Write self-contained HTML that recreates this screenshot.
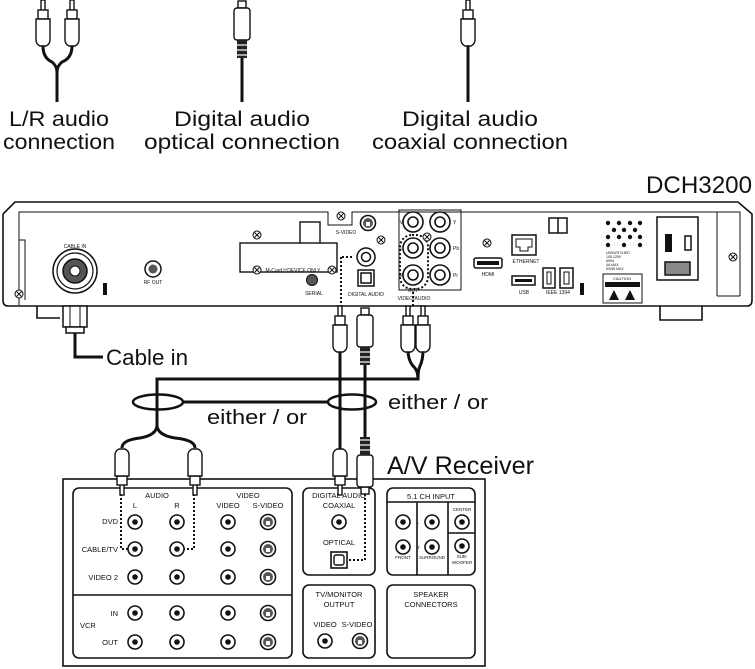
<!DOCTYPE html>
<html><head><meta charset="utf-8"><style>
html,body{margin:0;padding:0;background:#fff;}
svg{display:block;}
text{font-family:"Liberation Sans",sans-serif;fill:#111;}
.s{font-size:5px;}
.r{font-size:7.5px;}
</style></head><body>
<svg width="755" height="669" viewBox="0 0 755 669" xmlns="http://www.w3.org/2000/svg">
<defs>
<g id="rca">
<rect x="-2" y="0" width="4" height="11" fill="#fff" stroke="#111" stroke-width="1.4"/>
<rect x="-5" y="10" width="10" height="9" fill="#fff" stroke="#111" stroke-width="1.4"/>
<path d="M-7,19 H7 V40 Q7,44 3,46 H-3 Q-7,44 -7,40 Z" fill="#fff" stroke="#111" stroke-width="1.4"/>
</g>
<g id="opt">
<rect x="-4" y="0" width="8" height="7" fill="#fff" stroke="#111" stroke-width="1.4"/>
<rect x="-8" y="7" width="16" height="32" rx="3" fill="#fff" stroke="#111" stroke-width="1.4"/>
<rect x="-5" y="39" width="10" height="18" fill="#222"/>
<line x1="-5" y1="44" x2="5" y2="44" stroke="#fff" stroke-width="1.2"/>
<line x1="-5" y1="49" x2="5" y2="49" stroke="#fff" stroke-width="1.2"/>
<line x1="-5" y1="54" x2="5" y2="54" stroke="#fff" stroke-width="1.2"/>
</g>
<g id="jack"><circle r="7" fill="#fff" stroke="#111" stroke-width="1.6"/><circle r="2.8" fill="#111"/></g>
<g id="sv"><circle r="7.5" fill="#fff" stroke="#111" stroke-width="1.6"/><circle r="5" fill="#555"/><rect x="-2" y="-1" width="4" height="4" fill="#fff"/></g>
<g id="scr"><circle r="4" fill="#fff" stroke="#111" stroke-width="1"/><path d="M-2.5,-2.5 L2.5,2.5 M2.5,-2.5 L-2.5,2.5" stroke="#111" stroke-width="1"/></g>
</defs>

<g stroke="#111" fill="none" stroke-width="3">
<path d="M43,46 Q43,58 52,62 Q57,66 57,72 Q57,66 62,62 Q72,58 72,46"/>
<line x1="57" y1="70" x2="57" y2="102"/>
<line x1="242" y1="55" x2="242" y2="102"/>
<line x1="468" y1="45" x2="468" y2="102"/>
</g>
<use href="#rca" x="43" y="0"/><use href="#rca" x="72" y="0"/>
<use href="#opt" x="242" y="1"/>
<use href="#rca" x="468" y="0"/>

<text x="59" y="126" font-size="21" text-anchor="middle" textLength="100" lengthAdjust="spacingAndGlyphs">L/R audio</text>
<text x="59" y="149" font-size="21" text-anchor="middle" textLength="112" lengthAdjust="spacingAndGlyphs">connection</text>
<text x="242" y="126" font-size="21" text-anchor="middle" textLength="136" lengthAdjust="spacingAndGlyphs">Digital audio</text>
<text x="242" y="149" font-size="21" text-anchor="middle" textLength="196" lengthAdjust="spacingAndGlyphs">optical connection</text>
<text x="470" y="126" font-size="21" text-anchor="middle" textLength="136" lengthAdjust="spacingAndGlyphs">Digital audio</text>
<text x="470" y="149" font-size="21" text-anchor="middle" textLength="196" lengthAdjust="spacingAndGlyphs">coaxial connection</text>
<text x="752" y="193" font-size="24" text-anchor="end" textLength="106" lengthAdjust="spacingAndGlyphs">DCH3200</text>

<g stroke="#111" fill="none" stroke-width="1.6">
<path d="M3,214 L15,202 H738 L752,214 V300 M3,214 V300"/>
<path d="M3,300 Q3,306 8,306 H747 Q752,306 752,300" />
<path d="M19,305 V212 H328 V225 H352 V212 H548" stroke-width="1"/>
<path d="M548,212 H740 V296 M717,212 V296" stroke-width="1"/>
<path d="M19,240 H25 V300 M740,296 H717" stroke-width="1"/>
<path d="M37,306 V318 H60 M660,306 V320 H702 V306" />
<rect x="399" y="210" width="62" height="80" stroke-width="1"/>
</g>

<text x="75" y="248" class="s" text-anchor="middle">CABLE IN</text>
<circle cx="75" cy="271" r="22" fill="#fff" stroke="#111" stroke-width="1.5"/>
<circle cx="75" cy="271" r="18" fill="none" stroke="#111" stroke-width="1.2"/>
<circle cx="75" cy="271" r="12" fill="#555" stroke="#111" stroke-width="1.5"/>
<circle cx="75" cy="271" r="5" fill="#fff" stroke="#111"/>
<rect x="103" y="283" width="4" height="12" fill="#111"/>
<use href="#scr" x="19" y="294"/>
<circle cx="153" cy="269" r="8" fill="#fff" stroke="#111" stroke-width="1.5"/>
<circle cx="153" cy="269" r="4.5" fill="#555"/>
<text x="153" y="284" class="s" text-anchor="middle">RF OUT</text>

<rect x="300" y="222" width="20" height="22" fill="#fff" stroke="#111" stroke-width="1.4"/>
<rect x="240" y="243" width="97" height="29" fill="#fff" stroke="#111" stroke-width="1.4"/>
<use href="#scr" x="257" y="235"/><use href="#scr" x="257" y="270"/><use href="#scr" x="332" y="270"/>
<text x="293" y="272" class="s" text-anchor="middle">M-Card™DEVICE ONLY</text>
<use href="#scr" x="341" y="216"/>
<use href="#sv" x="368" y="223"/>
<text x="346" y="234" class="s" text-anchor="middle">S-VIDEO</text>
<use href="#scr" x="381" y="240"/>
<circle cx="366" cy="257" r="9" fill="#fff" stroke="#111" stroke-width="1.5"/>
<circle cx="366" cy="257" r="4.5" fill="none" stroke="#111" stroke-width="1.5"/>
<rect x="358" y="270" width="16" height="16" fill="#fff" stroke="#111" stroke-width="1.5"/>
<rect x="361" y="273" width="10" height="10" fill="#fff" stroke="#111" stroke-width="1.5"/>
<text x="366" y="296" class="s" text-anchor="middle">DIGITAL AUDIO</text>
<circle cx="312" cy="280" r="5.5" fill="#555" stroke="#111"/>
<text x="314" y="295" class="s" text-anchor="middle">SERIAL</text>

<g fill="#fff" stroke="#111" stroke-width="1.6">
<circle cx="413" cy="222" r="10"/><circle cx="440" cy="222" r="10"/>
<circle cx="413" cy="248" r="10"/><circle cx="440" cy="248" r="10"/>
<circle cx="413" cy="275" r="10"/><circle cx="440" cy="275" r="10"/>
<circle cx="413" cy="222" r="5"/><circle cx="440" cy="222" r="5"/>
<circle cx="413" cy="248" r="5"/><circle cx="440" cy="248" r="5"/>
<circle cx="413" cy="275" r="5"/><circle cx="440" cy="275" r="5"/>
</g>
<rect x="400" y="235" width="28" height="54" rx="12" fill="none" stroke="#111" stroke-width="2" stroke-dasharray="2,2"/>
<text x="403" y="224" class="s" text-anchor="end">V</text>
<text x="403" y="250" class="s" text-anchor="end">L</text>
<text x="403" y="277" class="s" text-anchor="end">R</text>
<text x="453" y="224" class="s">Y</text><text x="453" y="250" class="s">Pb</text><text x="453" y="277" class="s">Pr</text>
<text x="413" y="292" class="s" text-anchor="middle">OUT</text>
<text x="414" y="300" class="s" text-anchor="middle">VIDEO/AUDIO</text>
<use href="#scr" x="427" y="237"/>

<use href="#scr" x="487" y="243"/>
<rect x="474" y="258" width="28" height="10" rx="2" fill="#fff" stroke="#111" stroke-width="1.5"/>
<rect x="477" y="261" width="22" height="4" fill="#111"/>
<text x="488" y="276" class="s" text-anchor="middle">HDMI</text>
<rect x="512" y="235" width="24" height="20" fill="#fff" stroke="#111" stroke-width="1.5"/>
<path d="M516,239 H532 V247 H528 V251 H520 V247 H516 Z" fill="none" stroke="#111"/>
<text x="526" y="263" class="s" text-anchor="middle">ETHERNET</text>
<rect x="512" y="276" width="23" height="9" fill="#fff" stroke="#111" stroke-width="1.5"/>
<rect x="515" y="279" width="17" height="3" fill="#111"/>
<text x="524" y="294" class="s" text-anchor="middle">USB</text>
<rect x="543" y="268" width="12" height="20" fill="#fff" stroke="#111" stroke-width="1.5"/>
<rect x="560" y="268" width="13" height="20" fill="#fff" stroke="#111" stroke-width="1.5"/>
<rect x="547" y="272" width="4" height="12" fill="none" stroke="#111"/><rect x="564" y="272" width="5" height="12" fill="none" stroke="#111"/>
<text x="558" y="294" class="s" text-anchor="middle">IEEE 1394</text>
<rect x="580" y="283" width="4" height="12" fill="#111"/>
<rect x="549" y="218" width="18" height="15" fill="#fff" stroke="#111" stroke-width="1.5"/>
<line x1="558" y1="218" x2="558" y2="233" stroke="#111" stroke-width="1.5"/>

<g fill="#111">
<circle cx="608" cy="223" r="2.2"/><circle cx="619" cy="223" r="2.2"/><circle cx="630" cy="223" r="2.2"/><circle cx="640" cy="223" r="2.2"/>
<circle cx="614" cy="230" r="2.2"/><circle cx="624" cy="230" r="2.2"/><circle cx="635" cy="230" r="2.2"/>
<circle cx="608" cy="237" r="2.2"/><circle cx="619" cy="237" r="2.2"/><circle cx="630" cy="237" r="2.2"/><circle cx="640" cy="237" r="2.2"/>
<circle cx="608" cy="245" r="2.2"/><circle cx="624" cy="245" r="2.2"/><circle cx="640" cy="245" r="2.2"/>
</g>
<text x="606" y="254" font-size="3.5">UNSWITCHED</text>
<text x="606" y="258" font-size="3.5">105-125V</text>
<text x="606" y="262" font-size="3.5">60Hz</text>
<text x="606" y="266" font-size="3.5">4A MAX</text>
<text x="606" y="270" font-size="3.5">500W MAX</text>
<rect x="603" y="274" width="39" height="29" fill="#fff" stroke="#111"/>
<text x="622" y="280" font-size="4" text-anchor="middle">CAUTION</text>
<rect x="605" y="282" width="35" height="5" fill="#111"/>
<path d="M609,300 L614,290 L619,300 Z M625,300 L630,290 L635,300 Z" fill="#111"/>
<rect x="657" y="217" width="41" height="63" fill="#fff" stroke="#111" stroke-width="1.5"/>
<rect x="665" y="234" width="7" height="18" fill="#111"/>
<rect x="685" y="236" width="6" height="14" fill="#fff" stroke="#111" stroke-width="1.5"/>
<rect x="665" y="262" width="25" height="13" fill="#888" stroke="#111" stroke-width="1.5"/>
<use href="#scr" x="733" y="257"/>

<rect x="63" y="306" width="24" height="21" fill="#fff" stroke="#111" stroke-width="1.5"/>
<line x1="70" y1="306" x2="70" y2="327" stroke="#111"/><line x1="80" y1="306" x2="80" y2="327" stroke="#111"/>
<rect x="66" y="327" width="18" height="6" fill="#fff" stroke="#111" stroke-width="1.5"/>
<path d="M75,333 V357 H103" fill="none" stroke="#111" stroke-width="3"/>
<text x="106" y="365" font-size="22" textLength="82" lengthAdjust="spacingAndGlyphs">Cable in</text>

<path d="M341,257 V318" stroke="#111" stroke-width="2" stroke-dasharray="2,2" fill="none"/>
<path d="M352,257 H341" stroke="#111" stroke-width="2" stroke-dasharray="2,2"/>
<path d="M413,292 V308" stroke="#111" stroke-width="2" stroke-dasharray="2,2"/>
<g stroke="#111" fill="none" stroke-width="3">
<line x1="340" y1="350" x2="340" y2="450"/>
<line x1="365" y1="365" x2="365" y2="440"/>
<path d="M408,350 Q408,360 413,366 Q418,370 418,379 Q418,370 420,366 Q423,360 423,350"/>
<path d="M418,378 V379 H157 V427"/>
<path d="M157,425 Q157,435 140,438 Q122,440 122,448 M157,425 Q157,435 175,438 Q195,440 195,448"/>
<line x1="183" y1="402" x2="328" y2="402"/>
</g>
<use href="#rca" x="340" y="306"/>
<use href="#opt" x="365" y="308"/>
<use href="#rca" x="408" y="306"/><use href="#rca" x="423" y="306"/>
<ellipse cx="158" cy="402" rx="25" ry="7.5" fill="none" stroke="#111" stroke-width="2.5"/>
<ellipse cx="352" cy="402" rx="24" ry="7.5" fill="none" stroke="#111" stroke-width="2.5"/>
<text x="207" y="424" font-size="20" textLength="100" lengthAdjust="spacingAndGlyphs">either / or</text>
<text x="388" y="409" font-size="20" textLength="100" lengthAdjust="spacingAndGlyphs">either / or</text>
<text x="387" y="474" font-size="25" textLength="147" lengthAdjust="spacingAndGlyphs">A/V Receiver</text>

<rect x="63" y="479" width="422" height="187" fill="#fff" stroke="#111" stroke-width="1.6"/>
<g fill="none" stroke="#111" stroke-width="1.6">
<rect x="73" y="488" width="219" height="170" rx="6"/>
<line x1="73" y1="595" x2="292" y2="595"/>
<rect x="303" y="488" width="72" height="87" rx="6"/>
<rect x="387" y="488" width="88" height="87" rx="6"/>
<line x1="387" y1="502" x2="475" y2="502"/><line x1="417" y1="502" x2="417" y2="575"/><line x1="448" y1="502" x2="448" y2="575"/><line x1="448" y1="533" x2="475" y2="533"/>
<rect x="303" y="585" width="72" height="73" rx="6"/>
<rect x="387" y="585" width="88" height="73" rx="6"/>
</g>
<text class="r" x="157" y="498" text-anchor="middle">AUDIO</text>
<text class="r" x="248" y="498" text-anchor="middle">VIDEO</text>
<text class="r" x="135" y="508" text-anchor="middle">L</text>
<text class="r" x="177" y="508" text-anchor="middle">R</text>
<text class="r" x="228" y="508" text-anchor="middle">VIDEO</text>
<text class="r" x="268" y="508" text-anchor="middle">S-VIDEO</text>
<text class="r" x="118" y="524" text-anchor="end">DVD</text>
<text class="r" x="118" y="552" text-anchor="end">CABLE/TV</text>
<text class="r" x="118" y="580" text-anchor="end">VIDEO 2</text>
<text class="r" x="118" y="616" text-anchor="end">IN</text>
<text class="r" x="80" y="628">VCR</text>
<text class="r" x="118" y="645" text-anchor="end">OUT</text>
<use href="#jack" x="135" y="522"/><use href="#jack" x="177" y="522"/><use href="#jack" x="228" y="522"/><use href="#sv" x="268" y="522"/>
<use href="#jack" x="135" y="549"/><use href="#jack" x="177" y="549"/><use href="#jack" x="228" y="549"/><use href="#sv" x="268" y="549"/>
<use href="#jack" x="135" y="577"/><use href="#jack" x="177" y="577"/><use href="#jack" x="228" y="577"/><use href="#sv" x="268" y="577"/>
<use href="#jack" x="135" y="613"/><use href="#jack" x="177" y="613"/><use href="#jack" x="228" y="613"/><use href="#sv" x="268" y="613"/>
<use href="#jack" x="135" y="642"/><use href="#jack" x="177" y="642"/><use href="#jack" x="228" y="642"/><use href="#sv" x="268" y="642"/>
<text class="r" x="339" y="498" text-anchor="middle">DIGITAL AUDIO</text>
<text class="r" x="339" y="508" text-anchor="middle">COAXIAL</text>
<use href="#jack" x="339" y="522"/>
<text class="r" x="339" y="545" text-anchor="middle">OPTICAL</text>
<rect x="331" y="552" width="16" height="16" fill="#fff" stroke="#111" stroke-width="1.6"/>
<rect x="334" y="555" width="10" height="10" rx="2" fill="#fff" stroke="#111" stroke-width="1.4"/>
<text class="r" x="431" y="499" text-anchor="middle">5.1 CH INPUT</text>
<use href="#jack" x="403" y="522"/><use href="#jack" x="432" y="522"/><use href="#jack" x="462" y="522"/>
<use href="#jack" x="403" y="547"/><use href="#jack" x="432" y="547"/><use href="#jack" x="462" y="546"/>
<text font-size="4.5" x="462" y="511" text-anchor="middle">CENTER</text>
<text font-size="4.5" x="403" y="559" text-anchor="middle">FRONT</text>
<text font-size="4.5" x="432" y="559" text-anchor="middle">SURROUND</text>
<text font-size="4.5" x="462" y="558" text-anchor="middle">SUB-</text>
<text font-size="4.5" x="462" y="564" text-anchor="middle">WOOFER</text>
<text font-size="4.5" x="418" y="524" text-anchor="middle">L</text>
<text font-size="4.5" x="418" y="549" text-anchor="middle">R</text>
<text class="r" x="339" y="597" text-anchor="middle">TV/MONITOR</text>
<text class="r" x="339" y="607" text-anchor="middle">OUTPUT</text>
<text class="r" x="325" y="627" text-anchor="middle">VIDEO</text>
<text class="r" x="357" y="627" text-anchor="middle">S-VIDEO</text>
<use href="#jack" x="325" y="641"/><use href="#sv" x="360" y="641"/>
<text class="r" x="431" y="597" text-anchor="middle">SPEAKER</text>
<text class="r" x="431" y="607" text-anchor="middle">CONNECTORS</text>

<g fill="none" stroke="#111" stroke-width="2" stroke-dasharray="2,2">
<path d="M121,490 V549 H128"/>
<path d="M194,490 V549 H184"/>
<path d="M365,490 V560 H347"/>
</g>
<use href="#rca" transform="translate(122,495) scale(1,-1)"/>
<use href="#rca" transform="translate(195,495) scale(1,-1)"/>
<use href="#rca" transform="translate(340,495) scale(1,-1)"/>
<use href="#opt" transform="translate(365,494) scale(1,-1)"/>
</svg>
</body></html>
